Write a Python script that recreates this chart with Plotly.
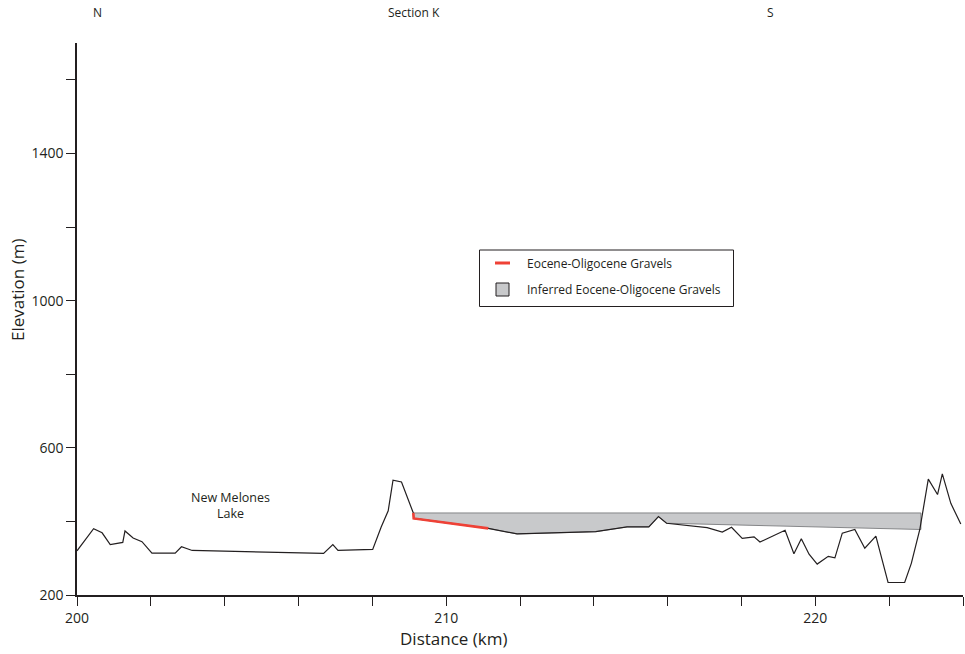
import plotly.graph_objects as go

# ---------------- data ----------------
terrain_km = [200.0, 200.45, 200.68, 200.90, 201.24, 201.30, 201.52, 201.76, 202.03, 202.66,
              202.83, 203.12, 206.68, 206.93, 207.07, 208.01, 208.24, 208.43, 208.56, 208.79,
              209.11, 209.12, 211.14, 211.92, 214.05, 214.90, 215.49, 215.75, 215.97, 217.07,
              217.48, 217.73, 218.02, 218.34, 218.50, 219.18, 219.42, 219.62, 219.83, 220.05,
              220.35, 220.53, 220.73, 221.07, 221.34, 221.64, 221.97, 222.42, 222.60, 222.83,
              223.06, 223.31, 223.44, 223.67, 223.94]
terrain_m = [320, 380, 369, 337, 343, 374, 355, 345, 314, 314,
             331, 321, 313, 337, 321, 324, 385, 429, 512, 507,
             423, 408, 381, 366, 372, 385, 385, 413, 395, 383,
             371, 384, 354, 358, 344, 376, 312, 353, 311, 284,
             305, 301, 368, 378, 327, 360, 234, 234, 286, 378,
             515, 473, 529, 449, 393]

gravel_km = [209.11, 209.12, 211.14]
gravel_m = [423, 408, 381]

inferred_km = [209.11, 222.86, 222.86, 215.97, 215.75, 215.49, 214.90, 214.05, 211.92, 211.14, 209.12, 209.11]
inferred_m = [423, 423, 378, 395, 413, 385, 385, 372, 366, 381, 408, 423]

x_ticks = list(range(200, 225, 2))
x_labels = [str(v) if v in (200, 210, 220) else "" for v in x_ticks]
y_ticks = list(range(200, 1700, 200))
y_labels = [str(v) if v in (200, 600, 1000, 1400) else "" for v in y_ticks]

legend_names = ["Eocene-Oligocene Gravels", "Inferred Eocene-Oligocene Gravels"]

# ---------------- figure ----------------
W, H = 965, 654
ML, MR, MT, MB = 77, 2, 43, 59
FONT = "Open Sans"
DARK = "#231f20"
RED = "#ef4136"
GREY = "#c8c9cb"

def px(xp):
    return (xp - ML) / (W - ML - MR)

def py(yp):
    return (H - MB - yp) / (H - MT - MB)

fig = go.Figure()
fig.add_trace(go.Scatter(x=inferred_km, y=inferred_m, mode="lines", fill="toself",
                         fillcolor=GREY, line=dict(color="#6d6e71", width=0.8),
                         hoverinfo="skip", showlegend=False))
fig.add_trace(go.Scatter(x=terrain_km, y=terrain_m, mode="lines",
                         line=dict(color=DARK, width=1.2), showlegend=False))
fig.add_trace(go.Scatter(x=gravel_km, y=gravel_m, mode="lines",
                         line=dict(color=RED, width=2.6), showlegend=False))

fig.update_layout(
    width=W, height=H,
    margin=dict(l=ML, r=MR, t=MT, b=MB, autoexpand=False),
    paper_bgcolor="white", plot_bgcolor="white",
    font=dict(family=FONT, size=14, color=DARK),
    xaxis=dict(range=[200, 224], showgrid=False, zeroline=False, showline=True,
               linecolor=DARK, linewidth=1.5, ticks="outside", ticklen=9,
               tickwidth=1.2, tickcolor=DARK, tickvals=x_ticks, ticktext=x_labels,
               tickfont=dict(size=14, color=DARK)),
    yaxis=dict(range=[200, 1700], showgrid=False, zeroline=False, showline=True,
               linecolor=DARK, linewidth=1.5, ticks="outside", ticklen=9,
               tickwidth=1.2, tickcolor=DARK, tickvals=y_ticks, ticktext=y_labels,
               tickfont=dict(size=14, color=DARK)),
)

def note(text, x, y, size, **kw):
    d = dict(text=text, x=px(x), y=py(y), xref="paper", yref="paper", showarrow=False,
             xanchor="center", yanchor="middle", font=dict(size=size))
    d.update(kw)
    return d

annotations = [
    note("N", 97, 12, 12),
    note("Section K", 414, 12, 12),
    note("S", 770, 12, 12),
    dict(text="New Melones<br>Lake", x=204.15, y=443, xref="x", yref="y", showarrow=False,
         xanchor="center", yanchor="middle", font=dict(size=12.5)),
    note("Distance (km)", 453, 638, 17),
    note("Elevation (m)", 17, 290, 17, textangle=-90),
    note(legend_names[0], 525, 263, 12, xanchor="left"),
    note(legend_names[1], 525, 289, 12, xanchor="left"),
]
fig.update_layout(annotations=annotations)

shapes = [
    dict(type="rect", xref="paper", yref="paper", x0=px(479.5), x1=px(733.5),
         y0=py(250), y1=py(306.5), line=dict(color=DARK, width=1), fillcolor="white", layer="below"),
    dict(type="line", xref="paper", yref="paper", x0=px(495), x1=px(510),
         y0=py(263), y1=py(263), line=dict(color=RED, width=3)),
    dict(type="rect", xref="paper", yref="paper", x0=px(496), x1=px(509),
         y0=py(283), y1=py(296), line=dict(color=DARK, width=1), fillcolor=GREY),
]
fig.update_layout(shapes=shapes)

fig.write_html("out.html")
